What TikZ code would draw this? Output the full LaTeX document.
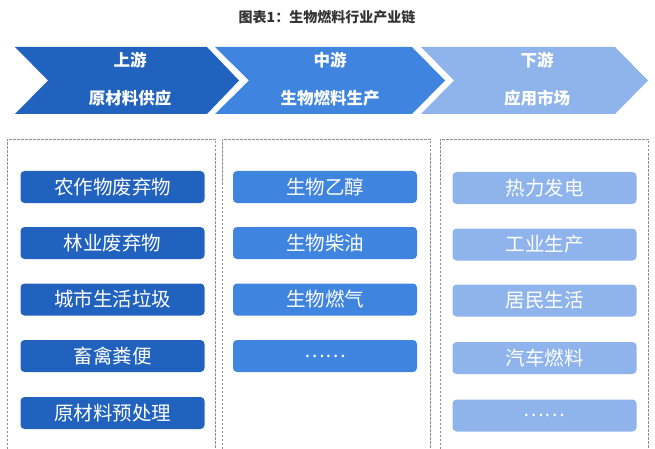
\documentclass[tikz,border=0pt]{standalone}
\usepackage{fontspec}
\newfontfamily\cjk{Noto Sans CJK SC}
\usetikzlibrary{positioning}

\definecolor{upblue}{HTML}{2262BF}
\definecolor{midblue}{HTML}{3F84DF}
\definecolor{downblue}{HTML}{8EB4EB}
\definecolor{boxline}{HTML}{8A8F96}

\begin{document}
\begin{tikzpicture}[
  x=1pt,y=1pt,
  head/.style={text=white,font=\cjk\bfseries\fontsize{16.5}{18}\selectfont},
  item/.style={rounded corners=4pt,minimum width=184pt,minimum height=32pt,
    text=white,inner sep=0pt,font=\cjk\fontsize{19.5}{22}\selectfont},
  frame/.style={draw=boxline,line width=.6pt,dash pattern=on 2.5pt off 1.5pt},
  every node/.append style={font=\cjk}
]
  \useasboundingbox (0,0) rectangle (655,-449);

  \node[font=\cjk\bfseries\fontsize{14}{16}\selectfont,text=black!80] (title) at (327,-17) {图表1：生物燃料行业产业链};

  % chevrons
  \fill[upblue] (15,-47) -- (207,-47) -- (239,-80.5) -- (207,-114) -- (15,-114) -- (48,-80.5) -- cycle;
  \fill[midblue] (215,-47) -- (412,-47) -- (445,-80.5) -- (412,-114) -- (215,-114) -- (249,-80.5) -- cycle;
  \fill[downblue] (421,-47) -- (615,-47) -- (648,-80.5) -- (615,-114) -- (421,-114) -- (454,-80.5) -- cycle;

  \node[head] (up1) at (130,-60) {上游};
  \node[head] (up2) at (130,-98) {原材料供应};
  \node[head] (mid1) at (330,-60) {中游};
  \node[head] (mid2) at (330,-98) {生物燃料生产};
  \node[head] (down1) at (537,-60) {下游};
  \node[head] (down2) at (537,-98) {应用市场};

  % dashed frames
  \draw[frame] (7,-449) |- (215,-139) -- (215,-449);
  \draw[frame] (222,-449) |- (430,-139) -- (430,-449);
  \draw[frame] (440,-449) |- (648,-139) -- (648,-449);

  % upstream
  \node[item,fill=upblue] (raw1) at (112.5,-187) {农作物废弃物};
  \node[item,fill=upblue] (raw2) at (112.5,-243) {林业废弃物};
  \node[item,fill=upblue] (raw3) at (112.5,-299.5) {城市生活垃圾};
  \node[item,fill=upblue] (raw4) at (112.5,-356) {畜禽粪便};
  \node[item,fill=upblue] (raw5) at (112.5,-413) {原材料预处理};

  % midstream
  \node[item,fill=midblue] (fuel1) at (325,-187) {生物乙醇};
  \node[item,fill=midblue] (fuel2) at (325,-243) {生物柴油};
  \node[item,fill=midblue] (fuel3) at (325,-299.5) {生物燃气};
  \node[item,fill=midblue] (fuel4) at (325,-356) {……};

  % downstream
  \node[item,fill=downblue] (use1) at (544.5,-188) {热力发电};
  \node[item,fill=downblue] (use2) at (544.5,-244.5) {工业生产};
  \node[item,fill=downblue] (use3) at (544.5,-300.5) {居民生活};
  \node[item,fill=downblue] (use4) at (544.5,-358) {汽车燃料};
  \node[item,fill=downblue] (use5) at (544.5,-415.5) {……};
\end{tikzpicture}
\end{document}
